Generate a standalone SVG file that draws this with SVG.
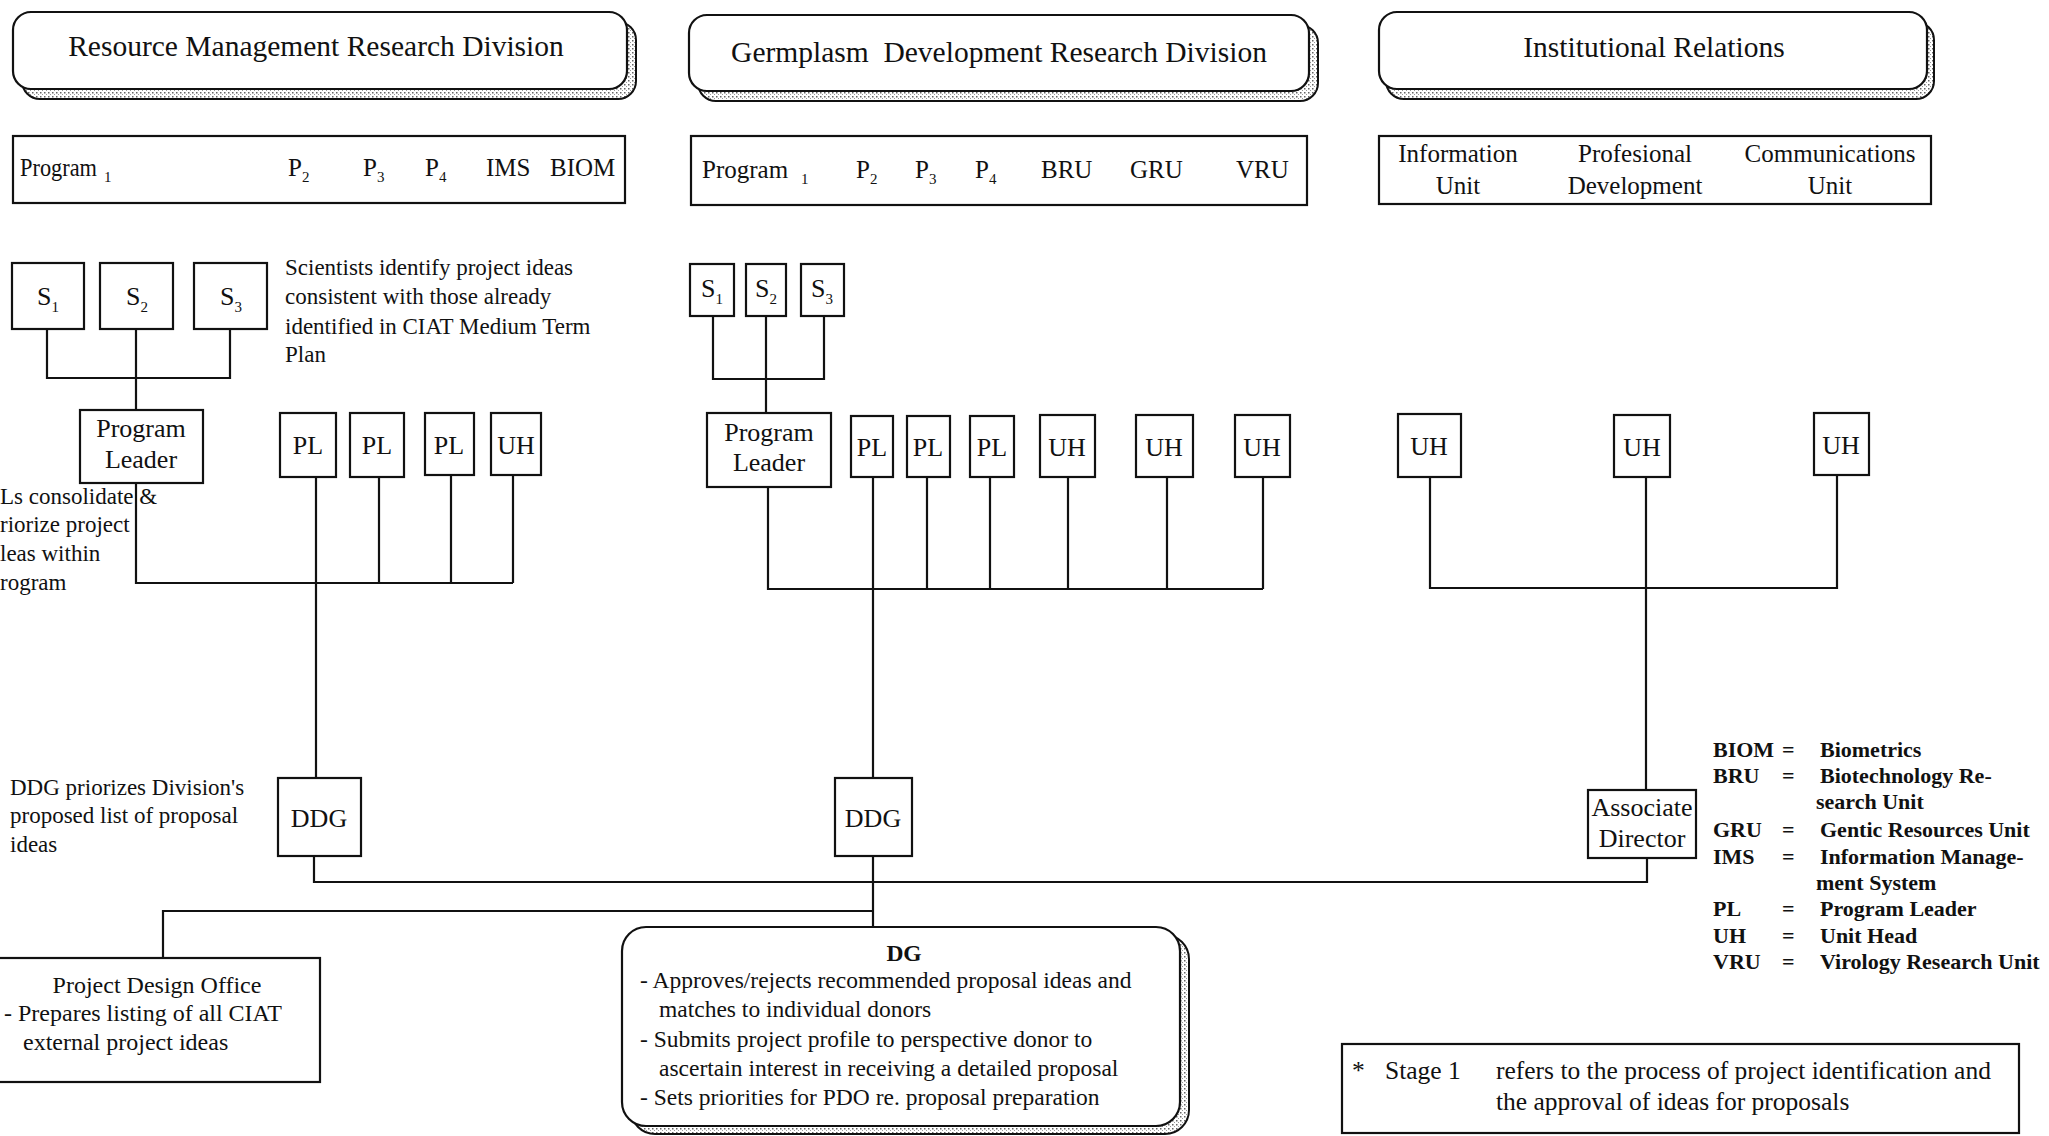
<svg xmlns="http://www.w3.org/2000/svg" width="2049" height="1136" viewBox="0 0 2049 1136">
<defs>
  <pattern id="stipple" width="4" height="4" patternUnits="userSpaceOnUse">
    <rect width="4" height="4" fill="#fff"/>
    <rect x="0" y="0" width="1.5" height="1.5" fill="#666"/>
    <rect x="2" y="2" width="1" height="1" fill="#999"/>
  </pattern>
</defs>
<style>
  .box{fill:#fff;stroke:#111;stroke-width:2.2}
  .shade{fill:url(#stipple);stroke:#111;stroke-width:2}
  .wire{fill:none;stroke:#111;stroke-width:2.2}
  text{font-family:"Liberation Serif","Times New Roman",serif;fill:#111}
  .title{font-size:29.5px;text-anchor:middle}
  .row{font-size:25px}
  .rowc{font-size:25px;text-anchor:middle}
  .lbl{font-size:26px;text-anchor:middle}
  .note{font-size:23px}
  .body{font-size:23.5px}
  .office{font-size:24px}
  .foot{font-size:25.5px}
  .legend{font-size:22px;font-weight:bold}
  .sub{font-size:15px}
</style>
<rect width="2049" height="1136" fill="#fff"/>

<!-- division headers -->
<g id="hdr-resource">
  <rect class="shade" x="22" y="22" width="614" height="77" rx="18"/>
  <rect class="box" x="13" y="12" width="614" height="77" rx="18"/>
  <text class="title" x="316" y="56">Resource Management Research Division</text>
</g>
<g id="hdr-germplasm">
  <rect class="shade" x="698" y="25" width="620" height="76" rx="18"/>
  <rect class="box" x="689" y="15" width="620" height="76" rx="18"/>
  <text class="title" x="999" y="62" xml:space="preserve">Germplasm  Development Research Division</text>
</g>
<g id="hdr-institutional">
  <rect class="shade" x="1386" y="22" width="548" height="77" rx="18"/>
  <rect class="box" x="1379" y="12" width="548" height="77" rx="18"/>
  <text class="title" x="1654" y="57">Institutional Relations</text>
</g>

<!-- program rows -->
<g id="row-resource">
  <rect class="box" x="13" y="136" width="612" height="67"/>
  <text class="row" x="20" y="176" textLength="77" lengthAdjust="spacingAndGlyphs">Program</text>
  <text class="sub" x="104" y="182">1</text>
  <text class="row" x="288" y="176">P<tspan class="sub" dy="6">2</tspan></text>
  <text class="row" x="363" y="176">P<tspan class="sub" dy="6">3</tspan></text>
  <text class="row" x="425" y="176">P<tspan class="sub" dy="6">4</tspan></text>
  <text class="row" x="486" y="176">IMS</text>
  <text class="row" x="550" y="176">BIOM</text>
</g>
<g id="row-germplasm">
  <rect class="box" x="691" y="136" width="616" height="69"/>
  <text class="row" x="702" y="178">Program</text>
  <text class="sub" x="801" y="184">1</text>
  <text class="row" x="856" y="178">P<tspan class="sub" dy="6">2</tspan></text>
  <text class="row" x="915" y="178">P<tspan class="sub" dy="6">3</tspan></text>
  <text class="row" x="975" y="178">P<tspan class="sub" dy="6">4</tspan></text>
  <text class="row" x="1041" y="178">BRU</text>
  <text class="row" x="1130" y="178">GRU</text>
  <text class="row" x="1236" y="178">VRU</text>
</g>
<g id="row-institutional">
  <rect class="box" x="1379" y="136" width="552" height="68"/>
  <text class="rowc" x="1458" y="162">Information</text>
  <text class="rowc" x="1458" y="194">Unit</text>
  <text class="rowc" x="1635" y="162">Profesional</text>
  <text class="rowc" x="1635" y="194">Development</text>
  <text class="rowc" x="1830" y="162">Communications</text>
  <text class="rowc" x="1830" y="194">Unit</text>
</g>

<!-- connectors -->
<g id="connectors">
  <!-- resource management division -->
  <path class="wire" d="M47 329V378H230V329M136 329V410"/>
  <path class="wire" d="M136 483V583H513"/>
  <path class="wire" d="M316 477V778"/>
  <path class="wire" d="M379 477V583M451 475V583M513 475V583"/>
  <!-- germplasm division -->
  <path class="wire" d="M713 316V379H824V316M766 316V413"/>
  <path class="wire" d="M768 487V589H1263"/>
  <path class="wire" d="M873 477V778"/>
  <path class="wire" d="M927 477V589M990 477V589M1068 477V589M1167 477V589M1263 477V589"/>
  <!-- institutional relations -->
  <path class="wire" d="M1430 477V588H1837V475"/>
  <path class="wire" d="M1646 477V790"/>
  <!-- lower level -->
  <path class="wire" d="M314 856V882H1647V858"/>
  <path class="wire" d="M873 856V927"/>
  <path class="wire" d="M873 911H163V958"/>
</g>

<!-- resource management division nodes -->
<g id="rm-s1"><rect class="box" x="12" y="263" width="72" height="66"/><text class="lbl" x="48" y="305">S<tspan class="sub" dy="7">1</tspan></text></g>
<g id="rm-s2"><rect class="box" x="100" y="263" width="73" height="66"/><text class="lbl" x="137" y="305">S<tspan class="sub" dy="7">2</tspan></text></g>
<g id="rm-s3"><rect class="box" x="194" y="263" width="73" height="66"/><text class="lbl" x="231" y="305">S<tspan class="sub" dy="7">3</tspan></text></g>
<g id="rm-leader"><rect class="box" x="80" y="410" width="123" height="73"/><text class="lbl" x="141" y="437">Program</text><text class="lbl" x="141" y="468">Leader</text></g>
<g id="rm-pl1"><rect class="box" x="280" y="413" width="56" height="64"/><text class="lbl" x="308" y="454">PL</text></g>
<g id="rm-pl2"><rect class="box" x="350" y="413" width="54" height="64"/><text class="lbl" x="377" y="454">PL</text></g>
<g id="rm-pl3"><rect class="box" x="425" y="413" width="49" height="62"/><text class="lbl" x="449" y="454">PL</text></g>
<g id="rm-uh"><rect class="box" x="491" y="413" width="50" height="62"/><text class="lbl" x="516" y="454">UH</text></g>
<g id="rm-ddg"><rect class="box" x="278" y="778" width="83" height="78"/><text class="lbl" x="319" y="827">DDG</text></g>

<!-- germplasm division nodes -->
<g id="gd-s1"><rect class="box" x="690" y="264" width="44" height="52"/><text class="lbl" x="712" y="297">S<tspan class="sub" dy="7">1</tspan></text></g>
<g id="gd-s2"><rect class="box" x="746" y="264" width="40" height="52"/><text class="lbl" x="766" y="297">S<tspan class="sub" dy="7">2</tspan></text></g>
<g id="gd-s3"><rect class="box" x="801" y="264" width="43" height="52"/><text class="lbl" x="822" y="297">S<tspan class="sub" dy="7">3</tspan></text></g>
<g id="gd-leader"><rect class="box" x="707" y="413" width="124" height="74"/><text class="lbl" x="769" y="441">Program</text><text class="lbl" x="769" y="471">Leader</text></g>
<g id="gd-pl1"><rect class="box" x="851" y="416" width="42" height="61"/><text class="lbl" x="872" y="456">PL</text></g>
<g id="gd-pl2"><rect class="box" x="907" y="416" width="43" height="61"/><text class="lbl" x="928" y="456">PL</text></g>
<g id="gd-pl3"><rect class="box" x="970" y="416" width="44" height="61"/><text class="lbl" x="992" y="456">PL</text></g>
<g id="gd-uh1"><rect class="box" x="1040" y="415" width="55" height="62"/><text class="lbl" x="1067" y="456">UH</text></g>
<g id="gd-uh2"><rect class="box" x="1136" y="415" width="57" height="62"/><text class="lbl" x="1164" y="456">UH</text></g>
<g id="gd-uh3"><rect class="box" x="1235" y="415" width="55" height="62"/><text class="lbl" x="1262" y="456">UH</text></g>
<g id="gd-ddg"><rect class="box" x="835" y="778" width="77" height="78"/><text class="lbl" x="873" y="827">DDG</text></g>

<!-- institutional relations nodes -->
<g id="ir-uh1"><rect class="box" x="1398" y="414" width="63" height="63"/><text class="lbl" x="1429" y="455">UH</text></g>
<g id="ir-uh2"><rect class="box" x="1614" y="415" width="56" height="62"/><text class="lbl" x="1642" y="456">UH</text></g>
<g id="ir-uh3"><rect class="box" x="1814" y="413" width="55" height="62"/><text class="lbl" x="1841" y="454">UH</text></g>
<g id="ir-ad"><rect class="box" x="1588" y="790" width="108" height="68"/><text class="lbl" x="1642" y="816">Associate</text><text class="lbl" x="1642" y="847">Director</text></g>

<!-- central office nodes -->
<g id="pdo">
  <rect class="box" x="-4" y="958" width="324" height="124"/>
  <text class="office" x="157" y="993" text-anchor="middle">Project Design Office</text>
  <text class="office" x="4" y="1021">- Prepares listing of all CIAT</text>
  <text class="office" x="23" y="1050">external project ideas</text>
</g>
<g id="dg">
  <rect class="shade" x="631" y="935" width="558" height="199" rx="24"/>
  <rect class="box" x="622" y="927" width="558" height="199" rx="24"/>
  <text class="body" x="904" y="961" text-anchor="middle" font-weight="bold">DG</text>
  <text class="body" x="640" y="988">- Approves/rejects recommended proposal ideas and</text>
  <text class="body" x="659" y="1017">matches to individual donors</text>
  <text class="body" x="640" y="1047">- Submits project profile to perspective donor to</text>
  <text class="body" x="659" y="1076">ascertain interest in receiving a detailed proposal</text>
  <text class="body" x="640" y="1105">- Sets priorities for PDO re. proposal preparation</text>
</g>

<!-- side notes -->
<g id="notes">
  <text class="note" x="285" y="275">Scientists identify project ideas</text>
  <text class="note" x="285" y="304">consistent with those already</text>
  <text class="note" x="285" y="334">identified in CIAT Medium Term</text>
  <text class="note" x="285" y="362">Plan</text>
  <text class="note" x="0" y="504">Ls consolidate &amp;</text>
  <text class="note" x="0" y="532">riorize project</text>
  <text class="note" x="0" y="561">leas within</text>
  <text class="note" x="0" y="590">rogram</text>
  <text class="note" x="10" y="795">DDG priorizes Division's</text>
  <text class="note" x="10" y="823">proposed list of proposal</text>
  <text class="note" x="10" y="852">ideas</text>
</g>

<!-- abbreviations -->
<g id="legend">
  <text class="legend" x="1713" y="757">BIOM</text><text class="legend" x="1782" y="757">=</text><text class="legend" x="1820" y="757">Biometrics</text>
  <text class="legend" x="1713" y="783">BRU</text><text class="legend" x="1782" y="783">=</text><text class="legend" x="1820" y="783">Biotechnology Re-</text>
  <text class="legend" x="1816" y="809">search Unit</text>
  <text class="legend" x="1713" y="837">GRU</text><text class="legend" x="1782" y="837">=</text><text class="legend" x="1820" y="837">Gentic Resources Unit</text>
  <text class="legend" x="1713" y="864">IMS</text><text class="legend" x="1782" y="864">=</text><text class="legend" x="1820" y="864">Information Manage-</text>
  <text class="legend" x="1816" y="890">ment System</text>
  <text class="legend" x="1713" y="916">PL</text><text class="legend" x="1782" y="916">=</text><text class="legend" x="1820" y="916">Program Leader</text>
  <text class="legend" x="1713" y="943">UH</text><text class="legend" x="1782" y="943">=</text><text class="legend" x="1820" y="943">Unit Head</text>
  <text class="legend" x="1713" y="969">VRU</text><text class="legend" x="1782" y="969">=</text><text class="legend" x="1820" y="969">Virology Research Unit</text>
</g>

<!-- footnote -->
<g id="footnote">
  <rect class="box" x="1342" y="1044" width="677" height="89"/>
  <text class="foot" x="1352" y="1079">*</text>
  <text class="foot" x="1385" y="1079">Stage 1</text>
  <text class="foot" x="1496" y="1079">refers to the process of project identification and</text>
  <text class="foot" x="1496" y="1110">the approval of ideas for proposals</text>
</g>
</svg>
